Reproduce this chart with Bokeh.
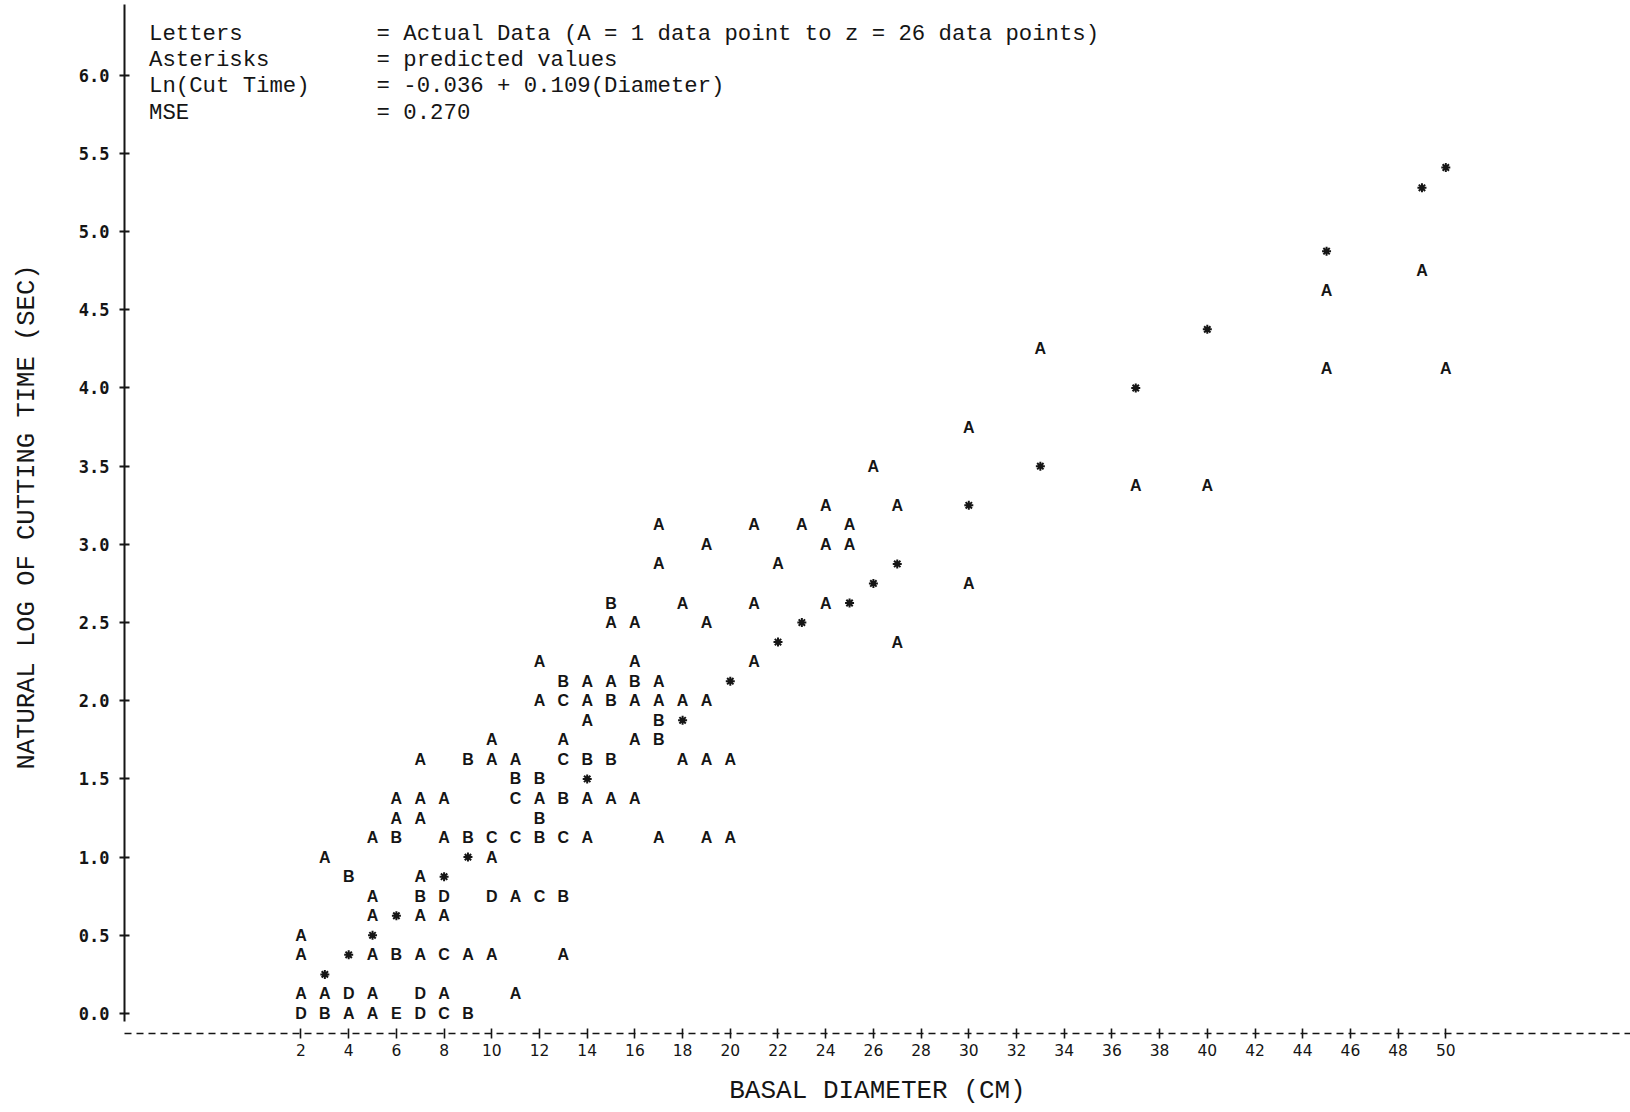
from bokeh.plotting import figure
from bokeh.models import Range1d, FixedTicker, PrintfTickFormatter, Label, ColumnDataSource
from bokeh.embed import file_html
from bokeh.resources import INLINE
from bokeh.core.properties import value

# Axis ticks
tick_x = list(range(2, 51, 2))
tick_y = [0.0, 0.5, 1.0, 1.5, 2.0, 2.5, 3.0, 3.5, 4.0, 4.5, 5.0, 5.5, 6.0]

# Observed trees: basal diameter (cm), ln(cutting time) print row, count letter (A = 1, B = 2, ...)
obs_diam = [
    2, 3, 4, 5, 6, 7, 8, 9,
    2, 3, 4, 5, 7, 8, 11,
    2, 5, 6, 7, 8, 9, 10, 13,
    2,
    5, 7, 8,
    5, 7, 8, 10, 11, 12, 13,
    4, 7,
    3, 10,
    5, 6, 8, 9, 10, 11, 12, 13, 14, 17, 19, 20,
    6, 7, 12,
    6, 7, 8, 11, 12, 13, 14, 15, 16,
    11, 12,
    7, 9, 10, 11, 13, 14, 15, 18, 19, 20,
    10, 13, 16, 17,
    14, 17,
    12, 13, 14, 15, 16, 17, 18, 19,
    13, 14, 15, 16, 17,
    12, 16, 21,
    27,
    15, 16, 19,
    15, 18, 21, 24,
    30,
    17, 22,
    19, 24, 25,
    17, 21, 23, 25,
    24, 27,
    37, 40,
    26,
    30,
    45, 50,
    33,
    45,
    49,
]
obs_lncut = (
    [0.0] * 8 + [0.125] * 7 + [0.375] * 8 + [0.5] * 1 + [0.625] * 3
    + [0.75] * 7 + [0.875] * 2 + [1.0] * 2 + [1.125] * 12 + [1.25] * 3
    + [1.375] * 9 + [1.5] * 2 + [1.625] * 10 + [1.75] * 4 + [1.875] * 2
    + [2.0] * 8 + [2.125] * 5 + [2.25] * 3 + [2.375] * 1 + [2.5] * 3
    + [2.625] * 4 + [2.75] * 1 + [2.875] * 2 + [3.0] * 3 + [3.125] * 4
    + [3.25] * 2 + [3.375] * 2 + [3.5] * 1 + [3.75] * 1 + [4.125] * 2
    + [4.25] * 1 + [4.625] * 1 + [4.75] * 1
)
obs_code = list(
    "DBAAEDCB"
    "AADADAA"
    "AABACAAA"
    "A"
    "AAA"
    "ABDDACB"
    "BA"
    "AA"
    "ABABCCBCAAAA"
    "AAB"
    "AAACABAAA"
    "BB"
    "ABAACBBAAA"
    "AAAB"
    "AB"
    "ACABAAAA"
    "BAABA"
    "AAA"
    "A"
    "AAA"
    "BAAA"
    "A"
    "AA"
    "AAA"
    "AAAA"
    "AA"
    "AA"
    "A"
    "A"
    "AA"
    "A"
    "A"
    "A"
)

# Predicted values from the fitted line, as printed
pred_diam = [3, 4, 5, 6, 8, 9, 14, 18, 20, 22, 23, 25, 26, 27, 30, 33, 37, 40, 45, 49, 50]
pred_lncut = [0.25, 0.375, 0.5, 0.625, 0.875, 1.0, 1.5, 1.875, 2.125, 2.375, 2.5, 2.625,
              2.75, 2.875, 3.25, 3.5, 4.0, 4.375, 4.875, 5.28, 5.41]

legend_keys = ["Letters", "Asterisks", "Ln(Cut Time)", "MSE"]
legend_text = [
    "= Actual Data (A = 1 data point to z = 26 data points)",
    "= predicted values",
    "= -0.036 + 0.109(Diameter)",
    "= 0.270",
]
legend_rows = [6.266, 6.100, 5.934, 5.761]

INK = "#151515"
TYPE_FONT = "Liberation Mono"

p = figure(
    width=1630, height=1112,
    x_range=Range1d(-5.40, 57.744), y_range=Range1d(-0.128, 6.478),
    output_backend="svg", toolbar_location=None,
    min_border_left=124, min_border_right=0, min_border_top=0, min_border_bottom=79,
    background_fill_color="white", border_fill_color="white",
)
p.outline_line_color = None
p.grid.visible = False

# Vertical axis: solid rule with "+" ticks
ya = p.yaxis[0]
ya.ticker = FixedTicker(ticks=tick_y)
ya.formatter = PrintfTickFormatter(format="%.1f")
ya.bounds = (-0.05, 6.45)
ya.axis_line_color = INK
ya.axis_line_width = 2
ya.major_tick_in = 5
ya.major_tick_out = 5
ya.major_tick_line_width = 2
ya.major_tick_line_color = INK
ya.minor_tick_line_color = None
ya.major_label_standoff = 10
ya.major_label_text_font = "DejaVu Sans Mono"
ya.major_label_text_font_style = "bold"
ya.major_label_text_font_size = "17px"
ya.major_label_text_color = INK
ya.axis_label = "NATURAL LOG OF CUTTING TIME (SEC)"
ya.axis_label_text_font = TYPE_FONT
ya.axis_label_text_font_size = "25.5px"
ya.axis_label_text_font_style = "normal"
ya.axis_label_text_color = INK
ya.axis_label_standoff = 34

# Horizontal axis: dashed rule with "+" ticks
xa = p.xaxis[0]
xa.ticker = FixedTicker(ticks=tick_x)
xa.axis_line_color = INK
xa.axis_line_width = 1.6
xa.axis_line_dash = "7 5"
xa.major_tick_in = 5
xa.major_tick_out = 5
xa.major_tick_line_width = 1.6
xa.major_tick_line_color = INK
xa.minor_tick_line_color = None
xa.major_label_standoff = 5
xa.major_label_text_font = "DejaVu Sans"
xa.major_label_text_font_size = "15.5px"
xa.major_label_text_color = INK
xa.axis_label = "BASAL DIAMETER (CM)"
xa.axis_label_text_font = TYPE_FONT
xa.axis_label_text_font_size = "26px"
xa.axis_label_text_font_style = "normal"
xa.axis_label_text_color = INK
xa.axis_label_standoff = 17

# Observed data as count letters
obs_src = ColumnDataSource(dict(x=obs_diam, y=obs_lncut, code=obs_code))
p.text(x="x", y="y", text="code", source=obs_src,
       text_font=value("Liberation Sans"), text_font_style="bold",
       text_font_size="16px", text_align="center", text_baseline="middle",
       text_color=INK)

# Predicted values as asterisks
p.scatter(pred_diam, pred_lncut, marker="asterisk", size=9, line_width=2.0, line_color=INK)

# Key in the upper left
for key, txt, yy in zip(legend_keys, legend_text, legend_rows):
    p.add_layout(Label(x=-4.37, y=yy, text=key, text_font=TYPE_FONT,
                       text_font_size="22.3px", text_baseline="middle", text_color=INK))
    p.add_layout(Label(x=5.17, y=yy, text=txt, text_font=TYPE_FONT,
                       text_font_size="22.3px", text_baseline="middle", text_color=INK))

open("out.html", "w").write(file_html(p, INLINE))
